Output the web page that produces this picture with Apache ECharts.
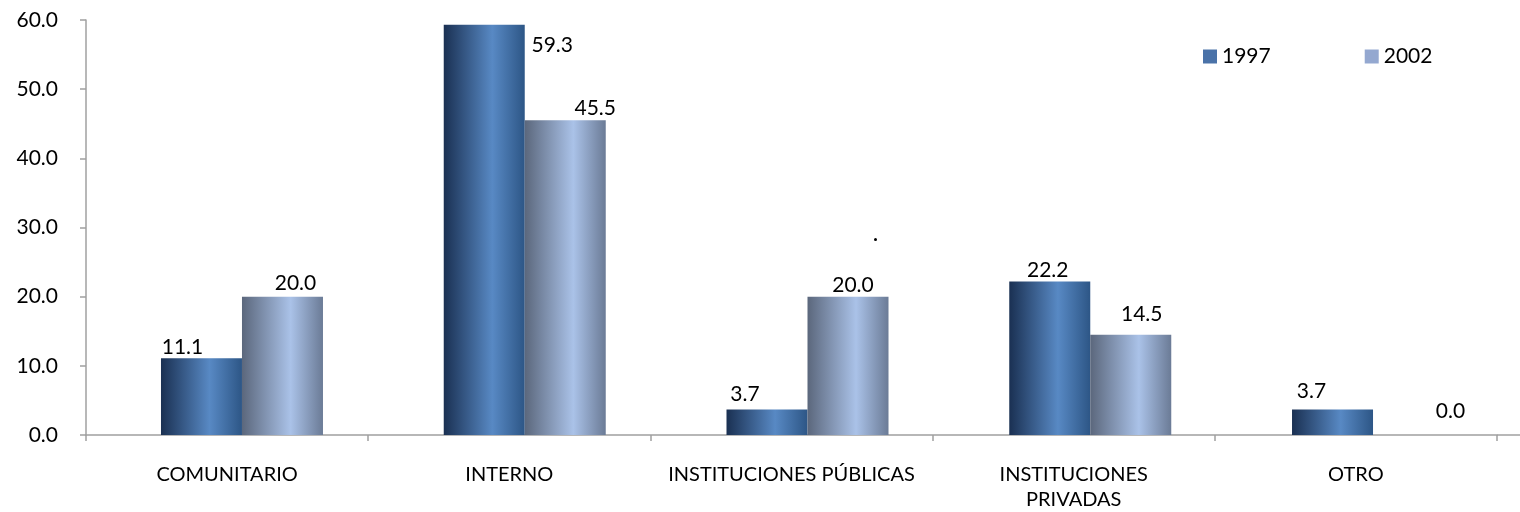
<!DOCTYPE html>
<html>
<head>
<meta charset="utf-8">
<script src="https://cdn.jsdelivr.net/npm/echarts@6/dist/echarts.min.js"></script>
<style>
  html, body { margin: 0; padding: 0; background: #fff; }
  #chart { width: 1520px; height: 512px; }
</style>
</head>
<body>
<div id="chart"></div>
<script>
var categories = ['COMUNITARIO', 'INTERNO', 'INSTITUCIONES PÚBLICAS', 'INSTITUCIONES\nPRIVADAS', 'OTRO'];
var values1997 = [11.1, 59.3, 3.7, 22.2, 3.7];
var values2002 = [20.0, 45.5, 20.0, 14.5, 0.0];
var seriesNames = ['1997', '2002'];
var yTicks = [0, 10, 20, 30, 40, 50, 60];

// desplazamiento de etiquetas, como en el original
var shift1997 = [[-19, 5], [68, 36], [-22, 0], [-2, 4], [-21, -3]];
var shift2002 = [[13, 2], [30, 3], [5, 4], [11, -5], [37, -8]];

var font = 'Lato, "Open Sans", sans-serif';

function grad(c1, c2, c3){
  return new echarts.graphic.LinearGradient(0, 0, 1, 0, [
    {offset: 0, color: c1},
    {offset: 0.6, color: c2},
    {offset: 1, color: c3}
  ]);
}

function build(vals, shift){
  var out = [];
  for(var i = 0; i < vals.length; i++){
    out.push({
      value: vals[i],
      label: {offset: shift[i]}
    });
  }
  return out;
}

var chart = echarts.init(document.getElementById('chart'));
var option = {
  animation: false,
  textStyle: {fontFamily: font},
  grid: [
    {left: 86, right: 23, top: 20, bottom: 77},
    {left: 100.6, right: 5.6, top: 20, bottom: 77}
  ],
  legend: {
    left: 1198, top: 41,
    itemWidth: 14, itemHeight: 14, itemGap: 94,
    icon: 'rect',
    textStyle: {fontSize: 21, color: '#000', fontFamily: font},
    data: [
      {name: seriesNames[0], itemStyle: {color: '#4a72a8'}},
      {name: seriesNames[1], itemStyle: {color: '#94a8d0'}}
    ]
  },
  xAxis: [{
    type: 'category',
    gridIndex: 0,
    data: categories,
    axisLine: {lineStyle: {color: '#a0a0a0', width: 1.5}},
    axisTick: {show: true, length: 6, lineStyle: {color: '#a0a0a0', width: 1.5}},
    axisLabel: {color: '#000', fontSize: 20, margin: 27, lineHeight: 25, fontFamily: font, interval: 0}
  }, {
    type: 'category',
    gridIndex: 1,
    data: categories,
    show: false
  }],
  yAxis: [{
    type: 'value',
    gridIndex: 0,
    min: 0, max: 60, interval: 10,
    axisLine: {show: true, lineStyle: {color: '#a0a0a0', width: 1.5}},
    axisTick: {show: true, length: 6, lineStyle: {color: '#a0a0a0', width: 1.5}},
    splitLine: {show: false},
    axisLabel: {
      color: '#000', fontSize: 21, margin: 28, fontFamily: font,
      formatter: function(v){ return yTicks.indexOf(v) >= 0 ? v.toFixed(1) : ''; }
    }
  }, {
    type: 'value',
    gridIndex: 1,
    min: 0, max: 60,
    show: false
  }],
  series: [{
    name: seriesNames[0],
    type: 'bar',
    xAxisIndex: 1, yAxisIndex: 1,
    barWidth: 81, barGap: '0%',
    itemStyle: {color: grad('#1a3052', '#5889c4', '#2d5686')},
    label: {show: true, position: 'top', color: '#000', fontSize: 21, fontFamily: font,
      formatter: function(p){ return p.value.toFixed(1); }},
    data: build(values1997, shift1997)
  }, {
    name: seriesNames[1],
    type: 'bar',
    xAxisIndex: 1, yAxisIndex: 1,
    barWidth: 81, barGap: '0%',
    itemStyle: {color: grad('#5b677c', '#aac2e8', '#6b7b96')},
    label: {show: true, position: 'top', color: '#000', fontSize: 21, fontFamily: font,
      formatter: function(p){ return p.value.toFixed(1); }},
    data: build(values2002, shift2002)
  }],
  graphic: [{
    type: 'circle', left: 874, top: 238,
    shape: {r: 1.5}, style: {fill: '#000'}
  }, {
    // el eje x sigue hasta el borde
    type: 'line',
    shape: {x1: 1497, y1: 435, x2: 1520, y2: 435},
    style: {stroke: '#a0a0a0', lineWidth: 1.5}
  }]
};
chart.setOption(option);
</script>
</body>
</html>
